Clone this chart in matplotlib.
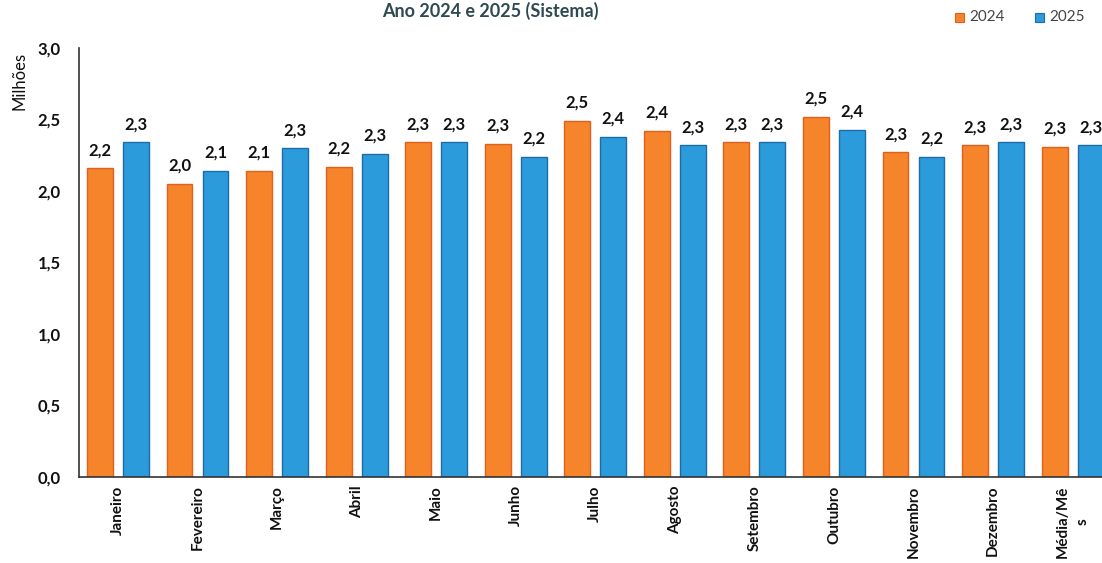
import numpy as np
import matplotlib
matplotlib.use("Agg")
import matplotlib.pyplot as plt
from matplotlib.patches import Rectangle

months = ['Janeiro', 'Fevereiro', 'Março', 'Abril', 'Maio', 'Junho', 'Julho',
          'Agosto', 'Setembro', 'Outubro', 'Novembro', 'Dezembro', 'Média/Mê\ns']
vals_2024 = [2.16, 2.05, 2.14, 2.17, 2.34, 2.33, 2.49, 2.42, 2.34, 2.52, 2.27, 2.32, 2.31]
vals_2025 = [2.34, 2.14, 2.30, 2.26, 2.34, 2.24, 2.38, 2.32, 2.34, 2.43, 2.24, 2.34, 2.32]
yticks = [0.0, 0.5, 1.0, 1.5, 2.0, 2.5, 3.0]

c24, e24 = '#F5842B', '#E2601E'
c25, e25 = '#2B9BDB', '#1E6BAA'

plt.rcParams['font.family'] = ['Lato', 'DejaVu Sans']

fig = plt.figure(figsize=(11.02, 5.63), dpi=100)
W, H = 1102, 563
ax = fig.add_axes([79 / W, (H - 477) / H, (W - 79) / W, (477 - 48) / H])

x = np.arange(len(months))
bw = 0.325
off = 0.226
ax.bar(x - off, vals_2024, bw, color=c24, edgecolor=e24, linewidth=1)
ax.bar(x + off, vals_2025, bw, color=c25, edgecolor=e25, linewidth=1)

def fmt(v):
    return f"{v:.1f}".replace('.', ',')

for xi, v in zip(x, vals_2024):
    ax.text(xi - off, v + 0.07, fmt(v), ha='center', va='bottom',
            fontsize=12, fontweight='bold', color='#111111')
for xi, v in zip(x, vals_2025):
    ax.text(xi + off, v + 0.07, fmt(v), ha='center', va='bottom',
            fontsize=12, fontweight='bold', color='#111111')

ax.set_xlim(-0.49, 12.37)
ax.set_ylim(0, 3.0)
ax.set_yticks(yticks)
ax.set_yticklabels([fmt(t) for t in yticks], fontsize=12, fontweight='bold', color='#111111')
ax.set_xticks(x)
ax.set_xticklabels(months, rotation=90, fontsize=11, fontweight='bold',
                   color='#111111', va='top', linespacing=1.6)
ax.tick_params(axis='x', length=0, pad=6)
ax.tick_params(axis='y', length=0, pad=13)

for s in ['top', 'right']:
    ax.spines[s].set_visible(False)
ax.spines['left'].set_color('#333333')
ax.spines['bottom'].set_color('#333333')
ax.spines['left'].set_linewidth(1.2)
ax.spines['bottom'].set_linewidth(1.2)

fig.text(20 / W, 1 - 81 / H, 'Milhões', rotation=90, ha='center', va='center',
         fontsize=12, color='#111111')
fig.text(490 / W, 1 - 11 / H, 'Ano 2024 e 2025 (Sistema)', ha='center', va='center',
         fontsize=13, fontweight='bold', color='#2E4A50')

# legend
for lx, col, ec, lab in [(955, c24, e24, '2024'), (1035, c25, e25, '2025')]:
    fig.patches.append(Rectangle((lx / W, 1 - 22 / H), 9 / W, 9 / H, transform=fig.transFigure,
                                 facecolor=col, edgecolor=ec, linewidth=0.8))
    fig.text((lx + 14) / W, 1 - 17 / H, lab, ha='left', va='center', fontsize=11, color='#444444')

fig.savefig('out.png', dpi=100)
